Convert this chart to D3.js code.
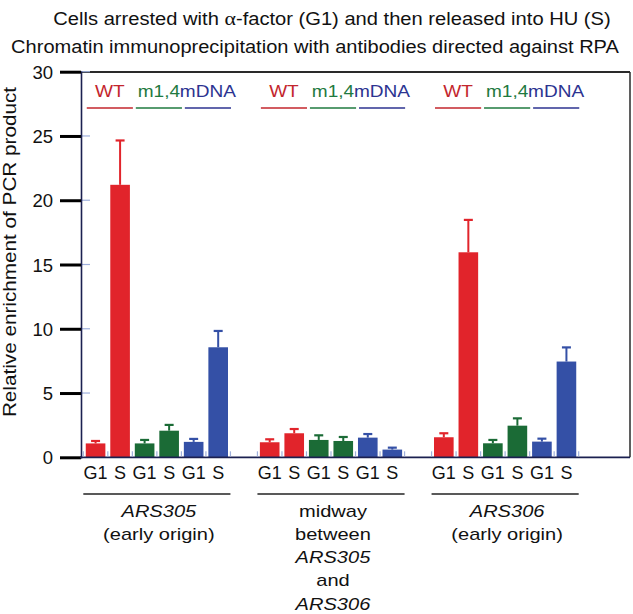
<!DOCTYPE html>
<html>
<head>
<meta charset="utf-8">
<script src="https://cdn.jsdelivr.net/npm/d3@7"></script>
<style>
  html, body { margin: 0; padding: 0; background: #fff; }
  svg { display: block; font-family: "Liberation Sans", Arial, sans-serif; }
</style>
</head>
<body>
<svg id="chart" width="633" height="614"></svg>
<script>
// ---------- data ----------
const groups = ["ARS305", "midway", "ARS306"];
const genotypes = ["WT", "m1,4", "mDNA"];
const phases = ["G1", "S"];
const yTicks = [0, 5, 10, 15, 20, 25, 30];

// order per group: WT G1, WT S, m1,4 G1, m1,4 S, mDNA G1, mDNA S
const valuesARS305 = [1.08, 21.2, 1.08, 2.07, 1.2, 8.56];
const valuesMidway = [1.17, 1.87, 1.35, 1.27, 1.53, 0.6];
const valuesARS306 = [1.56, 15.95, 1.09, 2.46, 1.22, 7.45];

const errorsARS305 = [0.19, 3.45, 0.27, 0.45, 0.23, 1.27];
const errorsMidway = [0.23, 0.33, 0.36, 0.31, 0.28, 0.15];
const errorsARS306 = [0.31, 2.52, 0.26, 0.57, 0.23, 1.1];

const groupLabels = [
  [{t: "ARS305", i: true}, {t: "(early origin)", i: false}],
  [{t: "midway", i: false}, {t: "between", i: false}, {t: "ARS305", i: true}, {t: "and", i: false}, {t: "ARS306", i: true}],
  [{t: "ARS306", i: true}, {t: "(early origin)", i: false}]
];

const titleLine1a = "Cells arrested with ";
const titleAlpha = "\u03B1";
const titleLine1b = "-factor (G1) and then released into HU (S)";
const titleLine2 = "Chromatin immunoprecipitation with antibodies directed against RPA";
const yTitle = "Relative enrichment of PCR product";

const allValues = [valuesARS305, valuesMidway, valuesARS306];
const allErrors = [errorsARS305, errorsMidway, errorsARS306];

// ---------- styles ----------
const barColors = {"WT": "#e1242b", "m1,4": "#1b6b36", "mDNA": "#3450a6"};
const textColors = {"WT": "#c3262d", "m1,4": "#1f7a3f", "mDNA": "#2c3391"};
const minorBlue = "#9fb0dc";

// stretch a text horizontally (along its baseline)
function stretch(sel, factor) {
  sel.each(function () {
    const len = this.getComputedTextLength();
    d3.select(this).attr("textLength", len * factor).attr("lengthAdjust", "spacingAndGlyphs");
  });
}

const svg = d3.select("#chart");

const y = d3.scaleLinear().domain([0, 30]).range([457.3, 71.7]);
const x0 = d3.scaleBand().domain(groups).range([80, 582]).paddingInner(0.155).paddingOuter(0.019);
const x1 = d3.scaleBand().domain(d3.range(6)).range([0, x0.bandwidth()]).paddingInner(0.2).paddingOuter(0.1);
const gap = x1.step() - x1.bandwidth();

const rows = [];
groups.forEach((g, gi) => {
  allValues[gi].forEach((v, i) => {
    rows.push({group: g, gi, i, genotype: genotypes[Math.floor(i / 2)], phase: phases[i % 2], value: v, err: allErrors[gi][i]});
  });
});

const barX = d => x0(d.group) + x1(d.i);

// ---------- titles ----------
const t1 = svg.append("text").attr("x", 332).attr("y", 25).attr("text-anchor", "middle")
  .attr("font-size", 17.5).attr("fill", "#111");
t1.append("tspan").text(titleLine1a);
t1.append("tspan").attr("font-family", "'Liberation Serif', 'DejaVu Serif', serif").attr("font-size", 19).text(titleAlpha);
t1.append("tspan").text(titleLine1b);
stretch(t1, 1.15);

const t2 = svg.append("text").attr("x", 315).attr("y", 53).attr("text-anchor", "middle")
  .attr("font-size", 17.5).attr("fill", "#111").text(titleLine2);
stretch(t2, 1.145);

// y title
const yt = svg.append("text")
  .attr("transform", "translate(16,252) rotate(-90)")
  .attr("text-anchor", "middle").attr("font-size", 18).attr("fill", "#111")
  .text(yTitle);
stretch(yt, 1.15);

// ---------- frame ----------
svg.append("line").attr("x1", 80).attr("x2", 630).attr("y1", 72).attr("y2", 72)
  .attr("stroke", "#2a2a2a").attr("stroke-width", 1.8);
svg.append("line").attr("x1", 630).attr("x2", 630).attr("y1", 72).attr("y2", 457.3)
  .attr("stroke", "#2a2a2a").attr("stroke-width", 1.5);

// inner minor ticks on y axis
svg.append("g").selectAll("line").data(yTicks.filter(t => t > 0)).join("line")
  .attr("x1", 81).attr("x2", 90).attr("y1", d => y(d)).attr("y2", d => y(d))
  .attr("stroke", minorBlue).attr("stroke-width", 1.2);

// y axis (outer major ticks)
const yAxis = d3.axisLeft(y).tickValues(yTicks).tickSize(21).tickPadding(7).tickFormat(d3.format("d"));
const ya = svg.append("g").attr("transform", "translate(81,0)").call(yAxis);
ya.select(".domain").attr("stroke", "#1b2050").attr("stroke-width", 1.6);
ya.selectAll(".tick line").attr("stroke", "#000").attr("stroke-width", 3);
ya.selectAll(".tick text").attr("font-size", 18.5).attr("fill", "#111")
  .attr("font-family", "'Liberation Sans', Arial, sans-serif").attr("dy", "0.36em");

// ---------- bars ----------
svg.append("g").selectAll("rect").data(rows).join("rect")
  .attr("x", barX).attr("width", x1.bandwidth())
  .attr("y", d => y(d.value)).attr("height", d => y(0) - y(d.value))
  .attr("fill", d => barColors[d.genotype]);

// error bars
const eb = svg.append("g").selectAll("g").data(rows).join("g");
eb.append("line")
  .attr("x1", d => barX(d) + x1.bandwidth() / 2).attr("x2", d => barX(d) + x1.bandwidth() / 2)
  .attr("y1", d => y(d.value)).attr("y2", d => y(d.value + d.err))
  .attr("stroke", d => barColors[d.genotype]).attr("stroke-width", 2);
eb.append("line")
  .attr("x1", d => barX(d) + x1.bandwidth() / 2 - 4.5).attr("x2", d => barX(d) + x1.bandwidth() / 2 + 4.5)
  .attr("y1", d => y(d.value + d.err)).attr("y2", d => y(d.value + d.err))
  .attr("stroke", d => barColors[d.genotype]).attr("stroke-width", 2.2);

// ---------- x axis ----------
svg.append("line").attr("x1", 80).attr("x2", 630).attr("y1", y(0)).attr("y2", y(0))
  .attr("stroke", "#1b2050").attr("stroke-width", 1.8);

// minor ticks on x axis at bar slot boundaries
const minorX = [];
groups.forEach(g => {
  d3.range(6).forEach(i => minorX.push(x0(g) + x1(i) - gap / 2));
  minorX.push(x0(g) + x1(5) + x1.bandwidth() + gap / 2);
});
svg.append("g").selectAll("line").data(minorX).join("line")
  .attr("x1", d => d).attr("x2", d => d).attr("y1", y(0) - 1).attr("y2", y(0) - 6)
  .attr("stroke", minorBlue).attr("stroke-width", 1.2);

// phase labels
svg.append("g").selectAll("text").data(rows).join("text")
  .attr("x", d => barX(d) + x1.bandwidth() / 2).attr("y", 478.5)
  .attr("text-anchor", "middle").attr("font-size", 18).attr("fill", "#111")
  .text(d => d.phase);

// group underline + labels
groups.forEach((g, gi) => {
  const xs = x0(g), xe = x0(g) + x0.bandwidth();
  svg.append("line").attr("x1", xs).attr("x2", xe).attr("y1", 494).attr("y2", 494)
    .attr("stroke", "#222").attr("stroke-width", 1.6);
  const gl = svg.append("g").selectAll("text").data(groupLabels[gi]).join("text")
    .attr("x", (xs + xe) / 2 + 2).attr("y", (d, k) => 516.5 + k * 23.3)
    .attr("text-anchor", "middle").attr("font-size", 17).attr("fill", "#111")
    .attr("font-style", d => d.i ? "italic" : "normal")
    .text(d => d.t);
  stretch(gl, 1.18);
});

// ---------- legend (genotype labels) ----------
groups.forEach(g => {
  genotypes.forEach((gt, k) => {
    const xs = x0(g) + x1(2 * k) + 1;
    const xe = x0(g) + x1(2 * k + 1) + x1.bandwidth() + 3;
    svg.append("line").attr("x1", xs).attr("x2", xe).attr("y1", 108).attr("y2", 108)
      .attr("stroke", textColors[gt]).attr("stroke-width", 1.6);
    const lt = svg.append("text").attr("x", (xs + xe) / 2).attr("y", 97)
      .attr("text-anchor", "middle").attr("font-size", 17).attr("fill", textColors[gt])
      .text(gt);
    stretch(lt, 1.12);
  });
});
</script>
</body>
</html>
